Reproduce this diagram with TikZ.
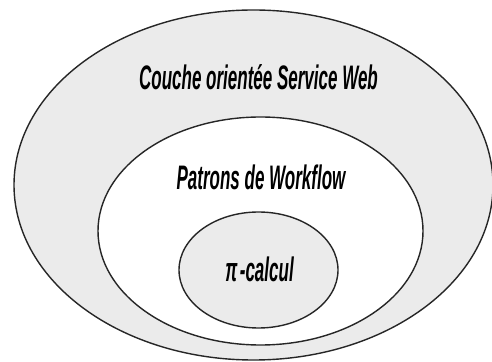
\documentclass[tikz,border=0pt]{standalone}
\usepackage{fontspec}
\setmainfont{Liberation Sans}
\definecolor{layergray}{RGB}{235,235,235}
\begin{document}
\begin{tikzpicture}[x=1pt,y=1pt,
  layer/.style={draw=black!85,line width=1.4pt},
  lbl/.style={anchor=base,inner sep=0pt,
    font=\fontsize{34}{40}\selectfont\bfseries\itshape}]
\useasboundingbox (0,0) rectangle (492,361);
% nested layers, from the outermost to the innermost
\draw[layer,fill=layergray] (253.5,176) ellipse [x radius=239.5,y radius=175];
\draw[layer,fill=white] (260.5,130) ellipse [x radius=162.5,y radius=114];
\draw[layer,fill=layergray] (258.5,91) ellipse [x radius=79.5,y radius=58];
% layer names
\node[lbl] (web) at (258.5,271) {\scalebox{0.5}[1]{Couche orientée Service Web}};
\node[lbl] (wf) at (261,171) {\scalebox{0.5}[1]{Patrons de Workflow}};
\node[lbl] (pi) at (259.5,79) {\scalebox{0.5}[1]{π\kern5pt-calcul}};
\end{tikzpicture}
\end{document}
